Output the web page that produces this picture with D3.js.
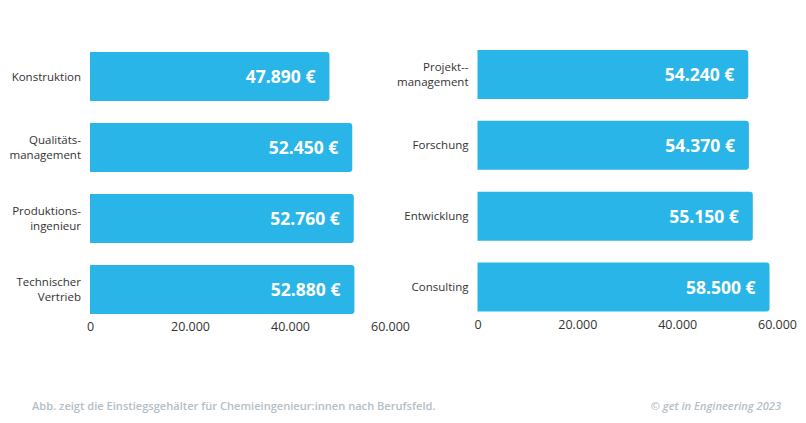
<!DOCTYPE html>
<html><head><meta charset="utf-8">
<script src="https://cdn.jsdelivr.net/npm/d3@7"></script>
<style>body{margin:0;background:#fff}svg{display:block;font-family:"Open Sans",sans-serif}</style>
</head><body><svg id="c" width="806" height="423"></svg>
<script>
const leftCats = [["Konstruktion"],["Qualitäts-","management"],["Produktions-","ingenieur"],["Technischer","Vertrieb"]];
const leftVals = [47890, 52450, 52760, 52880];
const rightCats = [["Projekt--","management"],["Forschung"],["Entwicklung"],["Consulting"]];
const rightVals = [54240, 54370, 55150, 58500];
const ticks = [0, 20000, 40000, 60000];
const footerLeft = "Abb. zeigt die Einstiegsgehälter für Chemieingenieur:innen nach Berufsfeld.";
const footerRight = "© get in Engineering 2023";

const svg = d3.select("#c");
const fmt = v => d3.format(",")(v).replace(/,/g, ".");
const color = "#29b5e8";

function panel(cats, vals, x0, x1, y0, y1, tickY) {
  const x = d3.scaleLinear().domain([0, 60000]).range([x0, x1]);
  const y = d3.scaleBand().domain(d3.range(cats.length)).range([y0, y1]).paddingInner(0.31).paddingOuter(0.155);
  const g = svg.append("g");
  const r = 3;
  g.selectAll("path.bar").data(vals).join("path").attr("class","bar")
    .attr("fill", color)
    .attr("d", (d, i) => {
      const xs = x(0), xe = x(d), ys = y(i), h = y.bandwidth();
      return `M${xs},${ys}H${xe-r}Q${xe},${ys} ${xe},${ys+r}V${ys+h-r}Q${xe},${ys+h} ${xe-r},${ys+h}H${xs}Z`;
    });
  g.selectAll("text.val").data(vals).join("text").attr("class","val")
    .attr("x", d => x(d) - 14).attr("y", (d, i) => y(i) + y.bandwidth()/2 + 6.5)
    .attr("text-anchor","end").attr("fill","#fff").attr("font-weight","bold")
    .attr("font-size","17.5px").text(d => fmt(d) + " €");
  cats.forEach((lines, i) => {
    const cy = y(i) + y.bandwidth()/2;
    const t = g.append("text").attr("text-anchor","end").attr("fill","#333").attr("font-size","11.5px");
    lines.forEach((ln, j) => {
      t.append("tspan").attr("x", x0 - 9)
        .attr("y", cy + 4 + (j - (lines.length - 1)/2) * 15).text(ln);
    });
  });
  const ax = g.append("g").attr("transform", `translate(0,${tickY})`)
    .call(d3.axisBottom(x).tickValues(ticks).tickSize(0).tickPadding(0).tickFormat(fmt));
  ax.select(".domain").remove();
  ax.selectAll("text").attr("font-family","Open Sans, sans-serif").attr("font-size","12.5px").attr("fill","#333").attr("dy","0");
}

panel(leftCats, leftVals, 90, 390, 41, 325, 331);
panel(rightCats, rightVals, 477.5, 777, 39, 322.5, 329);

svg.append("text").attr("x", 32).attr("y", 410).attr("font-size","11.1px").attr("font-weight","600")
  .attr("fill","#b5bec6").text(footerLeft);
svg.append("text").attr("x", 781).attr("y", 410).attr("text-anchor","end").attr("font-size","11.1px")
  .attr("font-weight","600").attr("font-style","italic").attr("fill","#b5bec6").text(footerRight);
</script></body></html>
